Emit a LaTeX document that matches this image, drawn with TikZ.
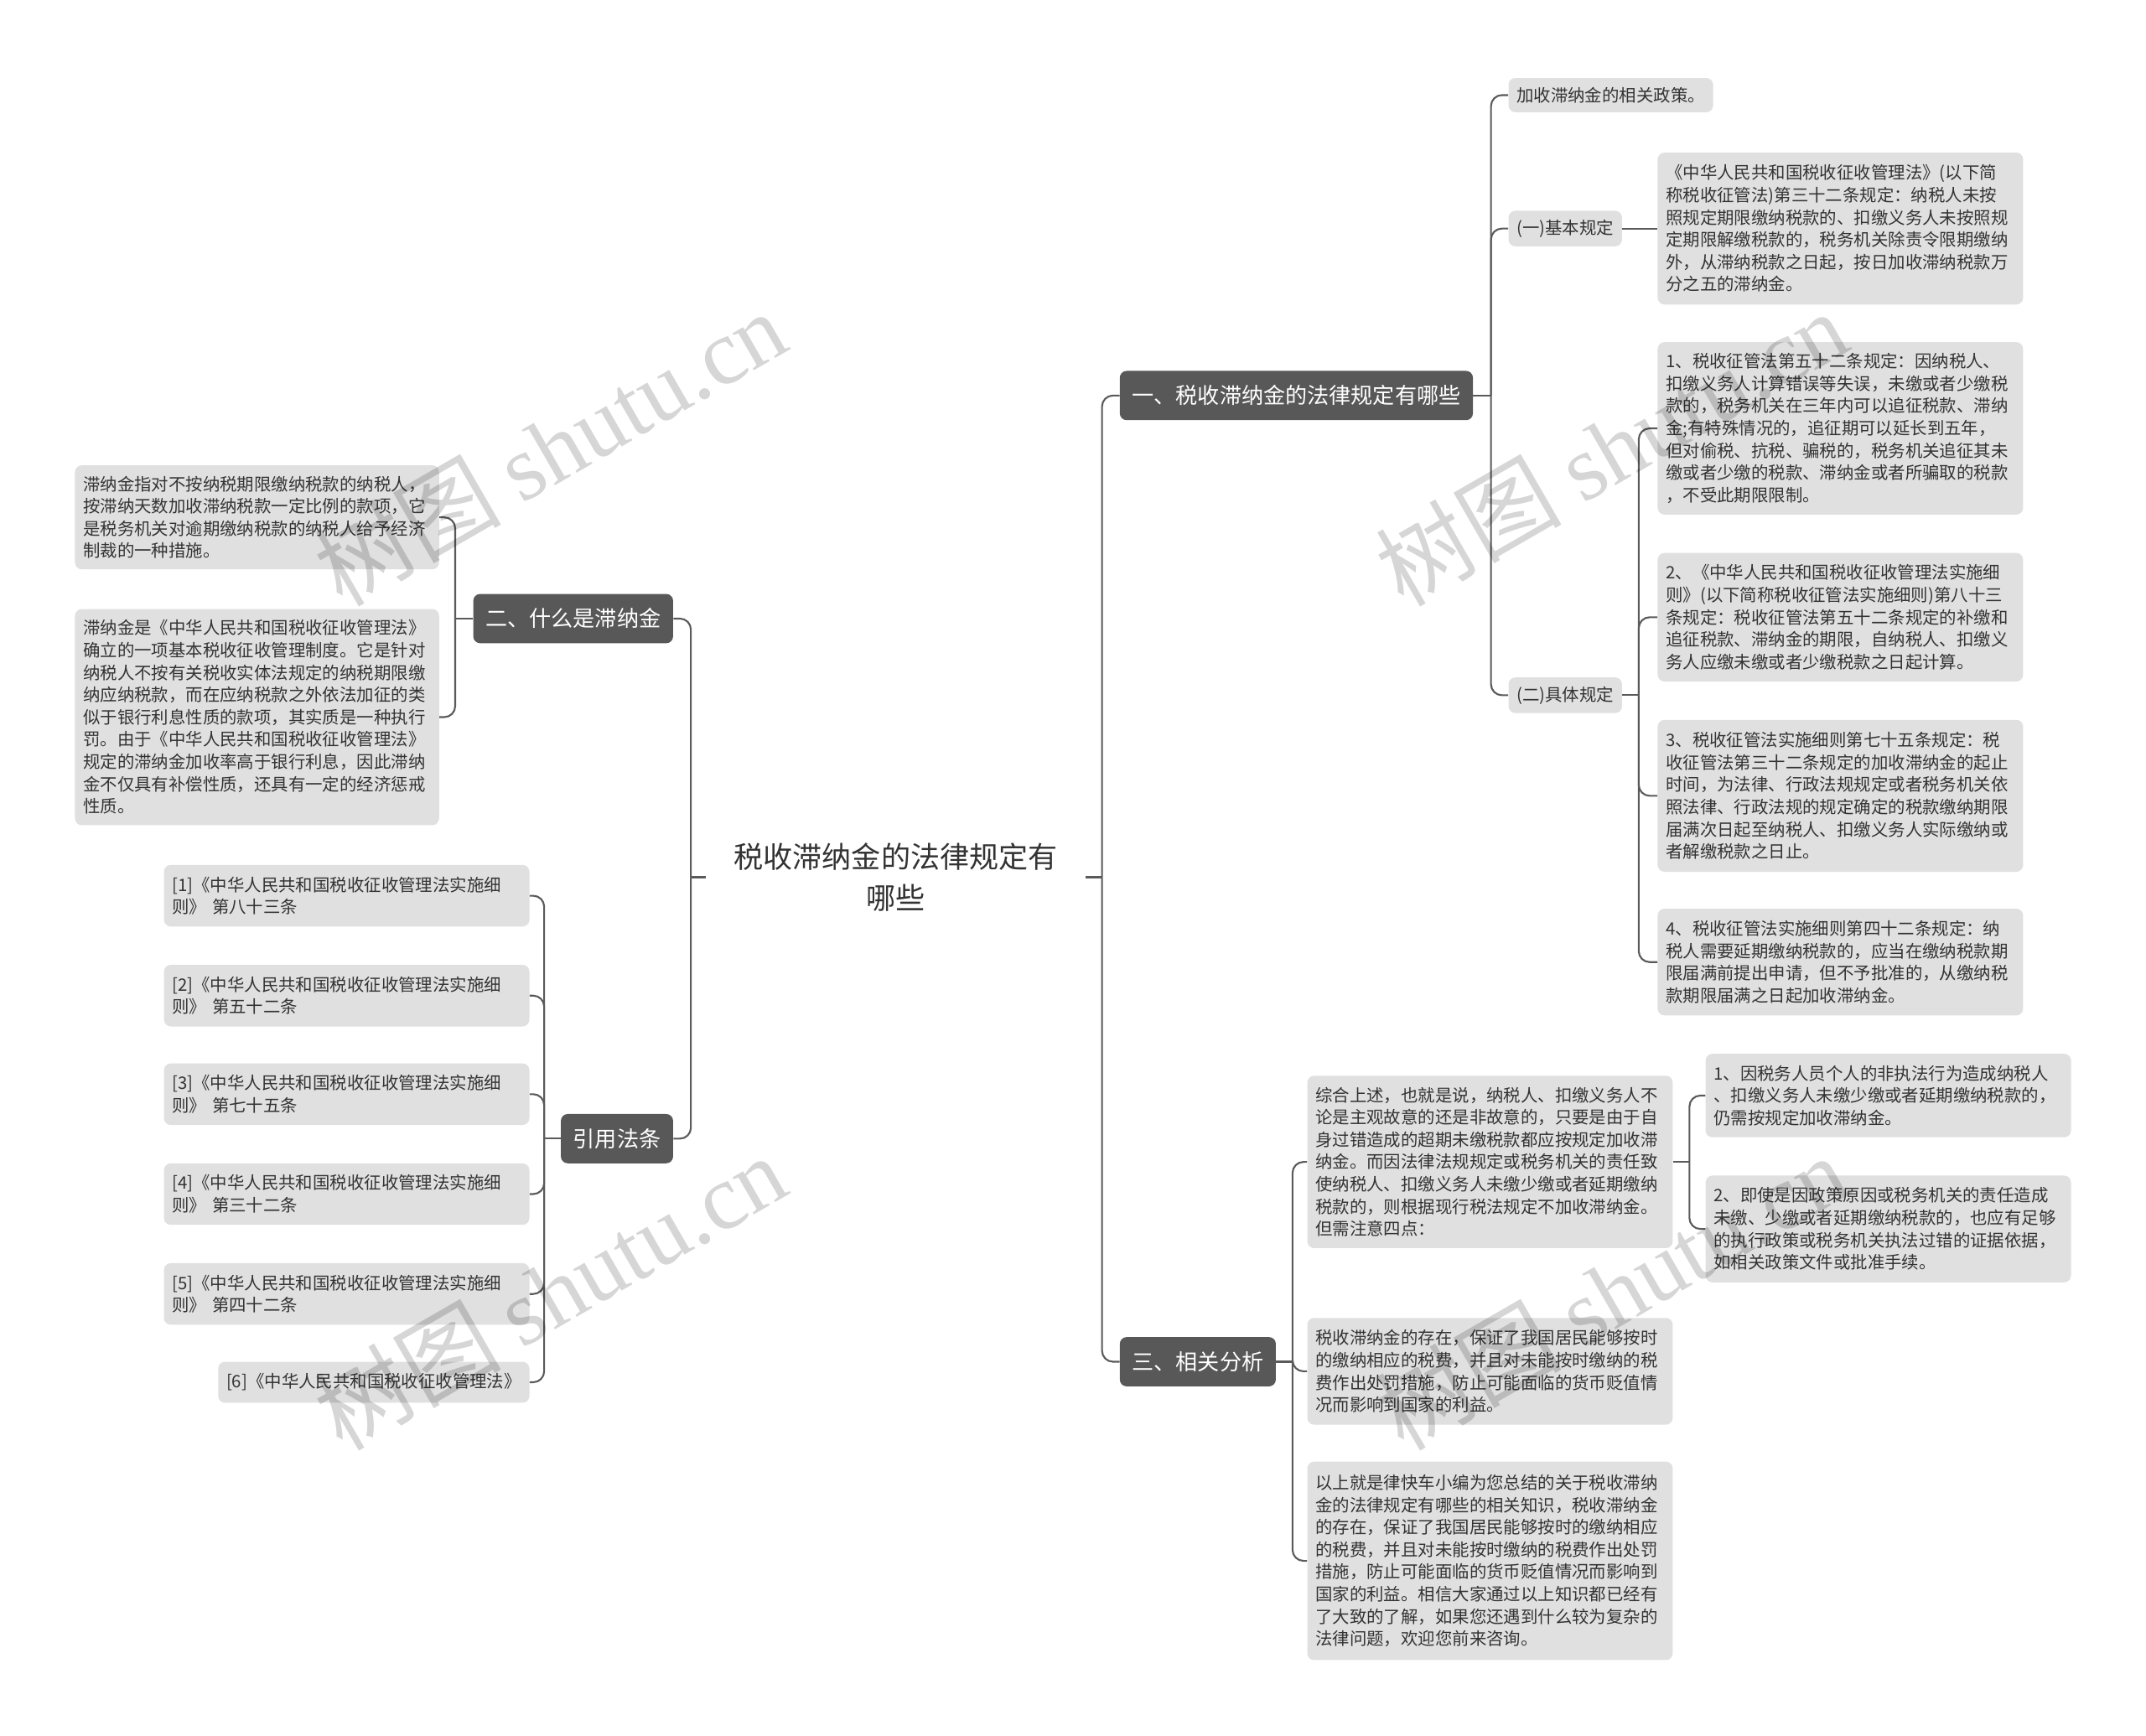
\documentclass[tikz,border=0pt]{standalone}
\usepackage{fontspec}
\setmainfont{Noto Sans CJK SC}
\newfontfamily\wmlatin{Liberation Serif}
\newfontfamily\wmcjk{Noto Sans CJK SC}
\definecolor{boxgray}{HTML}{E0E0E0}
\definecolor{nodedark}{HTML}{585858}
\definecolor{linec}{HTML}{5A5A5A}
\definecolor{txtc}{HTML}{333333}
\tikzset{
  leaf/.style={fill=boxgray, rounded corners=5pt, inner xsep=6pt, inner ysep=0pt, align=left, text=txtc, font=\fontsize{12.5}{16.3}\selectfont},
  mainnode/.style={fill=nodedark, rounded corners=5pt, inner xsep=9pt, inner ysep=0pt, minimum height=36pt, text=white, font=\fontsize{16}{20}\selectfont},
  conn/.style={draw=linec, line width=1.3pt, rounded corners=8pt},
  wm/.style={text=black, text opacity=0.16, rotate=30, font=\fontsize{68}{70}\selectfont},
}
\begin{document}
\begin{tikzpicture}[x=1pt,y=-1pt]
\fill[white] (0,0) rectangle (1568,1268);
\useasboundingbox (0,0) rectangle (1568,1268);

% root
\node[align=center, text=txtc, font=\fontsize{21.5}{30}\selectfont, minimum width=277pt, inner sep=0pt] (root) at (654.5,641) {税收滞纳金的法律规定有\\哪些};

% main branches
\node[mainnode, anchor=west] (r1) at (818,289) {一、税收滞纳金的法律规定有哪些};
\node[mainnode, anchor=west] (r3) at (818,995) {三、相关分析};
\node[mainnode, anchor=east] (l2) at (492,452) {二、什么是滞纳金};
\node[mainnode, anchor=east] (l4) at (492,832) {引用法条};

% branch 1
\node[leaf, anchor=west, minimum height=25pt] (p0) at (1102,69.5) {加收滞纳金的相关政策。};
\node[leaf, anchor=west, minimum height=26pt] (p1) at (1102,167) {(一)基本规定};
\node[leaf, anchor=west, text width=255pt, minimum height=111pt] (p1c) at (1211,167) {《中华人民共和国税收征收管理法》(以下简\\称税收征管法)第三十二条规定：纳税人未按\\照规定期限缴纳税款的、扣缴义务人未按照规\\定期限解缴税款的，税务机关除责令限期缴纳\\外，从滞纳税款之日起，按日加收滞纳税款万\\分之五的滞纳金。};
\node[leaf, anchor=west, minimum height=26pt] (p2) at (1102,508) {(二)具体规定};
\node[leaf, anchor=west, text width=255pt, minimum height=126pt] (q1) at (1211,313) {1、税收征管法第五十二条规定：因纳税人、\\扣缴义务人计算错误等失误，未缴或者少缴税\\款的，税务机关在三年内可以追征税款、滞纳\\金;有特殊情况的，追征期可以延长到五年，\\但对偷税、抗税、骗税的，税务机关追征其未\\缴或者少缴的税款、滞纳金或者所骗取的税款\\，不受此期限限制。};
\node[leaf, anchor=west, text width=255pt, minimum height=94pt] (q2) at (1211,451) {2、《中华人民共和国税收征收管理法实施细\\则》(以下简称税收征管法实施细则)第八十三\\条规定：税收征管法第五十二条规定的补缴和\\追征税款、滞纳金的期限，自纳税人、扣缴义\\务人应缴未缴或者少缴税款之日起计算。};
\node[leaf, anchor=west, text width=255pt, minimum height=111pt] (q3) at (1211,581.5) {3、税收征管法实施细则第七十五条规定：税\\收征管法第三十二条规定的加收滞纳金的起止\\时间，为法律、行政法规规定或者税务机关依\\照法律、行政法规的规定确定的税款缴纳期限\\届满次日起至纳税人、扣缴义务人实际缴纳或\\者解缴税款之日止。};
\node[leaf, anchor=west, text width=255pt, minimum height=78pt] (q4) at (1211,703) {4、税收征管法实施细则第四十二条规定：纳\\税人需要延期缴纳税款的，应当在缴纳税款期\\限届满前提出申请，但不予批准的，从缴纳税\\款期限届满之日起加收滞纳金。};

% branch 3
\node[leaf, anchor=west, text width=255pt, minimum height=126pt] (s1) at (955,849) {综合上述，也就是说，纳税人、扣缴义务人不\\论是主观故意的还是非故意的，只要是由于自\\身过错造成的超期未缴税款都应按规定加收滞\\纳金。而因法律法规规定或税务机关的责任致\\使纳税人、扣缴义务人未缴少缴或者延期缴纳\\税款的，则根据现行税法规定不加收滞纳金。\\但需注意四点：};
\node[leaf, anchor=west, text width=255pt, minimum height=78pt] (s2) at (955,1002) {税收滞纳金的存在，保证了我国居民能够按时\\的缴纳相应的税费，并且对未能按时缴纳的税\\费作出处罚措施，防止可能面临的货币贬值情\\况而影响到国家的利益。};
\node[leaf, anchor=west, text width=255pt, minimum height=145pt] (s3) at (955,1140.5) {以上就是律快车小编为您总结的关于税收滞纳\\金的法律规定有哪些的相关知识，税收滞纳金\\的存在，保证了我国居民能够按时的缴纳相应\\的税费，并且对未能按时缴纳的税费作出处罚\\措施，防止可能面临的货币贬值情况而影响到\\国家的利益。相信大家通过以上知识都已经有\\了大致的了解，如果您还遇到什么较为复杂的\\法律问题，欢迎您前来咨询。};
\node[leaf, anchor=west, text width=255pt, minimum height=61pt] (s1a) at (1246,800.5) {1、因税务人员个人的非执法行为造成纳税人\\、扣缴义务人未缴少缴或者延期缴纳税款的，\\仍需按规定加收滞纳金。};
\node[leaf, anchor=west, text width=255pt, minimum height=78pt] (s1b) at (1246,898) {2、即使是因政策原因或税务机关的责任造成\\未缴、少缴或者延期缴纳税款的，也应有足够\\的执行政策或税务机关执法过错的证据依据，\\如相关政策文件或批准手续。};

% branch 2
\node[leaf, anchor=east, text width=254pt, minimum height=76pt] (a1) at (321,378) {滞纳金指对不按纳税期限缴纳税款的纳税人，\\按滞纳天数加收滞纳税款一定比例的款项，它\\是税务机关对逾期缴纳税款的纳税人给予经济\\制裁的一种措施。};
\node[leaf, anchor=east, text width=254pt, minimum height=158pt] (a2) at (321,524) {滞纳金是《中华人民共和国税收征收管理法》\\确立的一项基本税收征收管理制度。它是针对\\纳税人不按有关税收实体法规定的纳税期限缴\\纳应纳税款，而在应纳税款之外依法加征的类\\似于银行利息性质的款项，其实质是一种执行\\罚。由于《中华人民共和国税收征收管理法》\\规定的滞纳金加收率高于银行利息，因此滞纳\\金不仅具有补偿性质，还具有一定的经济惩戒\\性质。};

% references
\node[leaf, anchor=east, text width=255pt, minimum height=45pt] (f1) at (387,654.5) {[1]《中华人民共和国税收征收管理法实施细\\则》 第八十三条};
\node[leaf, anchor=east, text width=255pt, minimum height=45pt] (f2) at (387,727.5) {[2]《中华人民共和国税收征收管理法实施细\\则》 第五十二条};
\node[leaf, anchor=east, text width=255pt, minimum height=45pt] (f3) at (387,799.5) {[3]《中华人民共和国税收征收管理法实施细\\则》 第七十五条};
\node[leaf, anchor=east, text width=255pt, minimum height=45pt] (f4) at (387,872.5) {[4]《中华人民共和国税收征收管理法实施细\\则》 第三十二条};
\node[leaf, anchor=east, text width=255pt, minimum height=45pt] (f5) at (387,945.5) {[5]《中华人民共和国税收征收管理法实施细\\则》 第四十二条};
\node[leaf, anchor=east, minimum height=30pt] (f6) at (387,1010) {[6]《中华人民共和国税收征收管理法》};

% connectors: root
\draw[conn] (root.east) -- ++(12,0);
\draw[conn] ([xshift=12pt]root.east) |- (r1.west);
\draw[conn] ([xshift=12pt]root.east) |- (r3.west);
\draw[conn] (root.west) -- ++(-11,0);
\draw[conn] ([xshift=-11pt]root.west) |- (l2.east);
\draw[conn] ([xshift=-11pt]root.west) |- (l4.east);

% branch 1
\draw[conn] (r1.east) -- ++(13,0);
\foreach \c in {p0,p1,p2} \draw[conn] ([xshift=13pt]r1.east) |- (\c.west);
\draw[conn] (p1.east) -- (p1c.west);
\draw[conn] (p2.east) -- ++(12,0);
\foreach \c in {q1,q2,q3,q4} \draw[conn] ([xshift=12pt]p2.east) |- (\c.west);

% branch 3
\draw[conn] (r3.east) -- ++(12,0);
\foreach \c in {s1,s2,s3} \draw[conn] ([xshift=12pt]r3.east) |- (\c.west);
\draw[conn] (s1.east) -- ++(12,0);
\foreach \c in {s1a,s1b} \draw[conn] ([xshift=12pt]s1.east) |- (\c.west);

% branch 2
\draw[conn] (l2.west) -- ++(-13,0);
\foreach \c in {a1,a2} \draw[conn] ([xshift=-13pt]l2.west) |- (\c.east);
\draw[conn] (l4.west) -- ++(-12,0);
\foreach \c in {f1,f2,f3,f4,f5,f6} \draw[conn] ([xshift=-12pt]l4.west) |- (\c.east);

% watermarks
\node[wm] (wm1) at (402,327) {{\wmcjk 树图} {\wmlatin shutu.cn}};
\node[wm] (wm2) at (1177,327) {{\wmcjk 树图} {\wmlatin shutu.cn}};
\node[wm] (wm3) at (402,944) {{\wmcjk 树图} {\wmlatin shutu.cn}};
\node[wm] (wm4) at (1177,944) {{\wmcjk 树图} {\wmlatin shutu.cn}};
\end{tikzpicture}
\end{document}
